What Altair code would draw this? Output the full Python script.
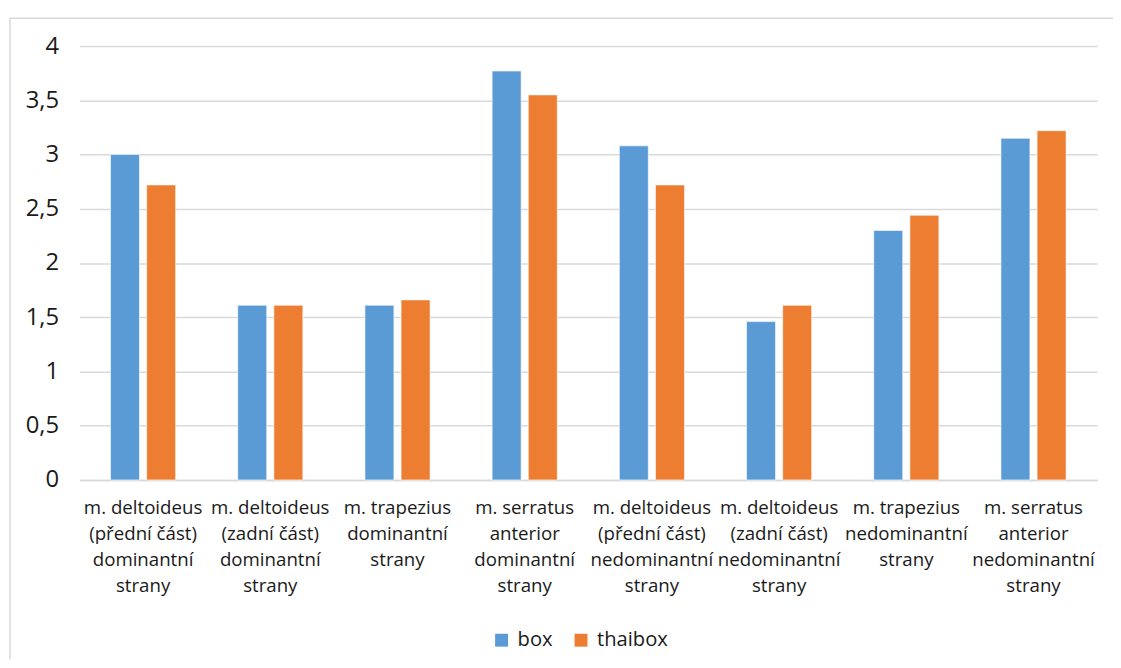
import altair as alt
import pandas as pd

categories = [
    "m. deltoideus|(přední část)|dominantní|strany",
    "m. deltoideus|(zadní část)|dominantní|strany",
    "m. trapezius|dominantní|strany",
    "m. serratus|anterior|dominantní|strany",
    "m. deltoideus|(přední část)|nedominantní|strany",
    "m. deltoideus|(zadní část)|nedominantní|strany",
    "m. trapezius|nedominantní|strany",
    "m. serratus|anterior|nedominantní|strany",
]
series = ["box", "thaibox"]
box_values = [3.0, 1.61, 1.61, 3.77, 3.08, 1.46, 2.30, 3.15]
thaibox_values = [2.72, 1.61, 1.66, 3.55, 2.72, 1.61, 2.44, 3.22]
y_ticks = [0, 0.5, 1, 1.5, 2, 2.5, 3, 3.5, 4]
colors = ["#5B9BD5", "#ED7D31"]

rows = []
for c, b, t in zip(categories, box_values, thaibox_values):
    rows.append({"cat": c, "series": "box", "value": b})
    rows.append({"cat": c, "series": "thaibox", "value": t})
df = pd.DataFrame(rows)

W, H = 1025, 437
FONT = "Open Sans"

border = alt.Chart(pd.DataFrame({"a": [0]})).mark_rect(
    fill=None, stroke="#D9D9D9", strokeWidth=1.5
).encode(
    x=alt.value(-70), x2=alt.value(W + 60), y=alt.value(-28), y2=alt.value(H + 220)
)

bars = alt.Chart(df).mark_bar(stroke="white", strokeWidth=0.6).encode(
    x=alt.X("cat:N", sort=categories, title=None,
            scale=alt.Scale(paddingInner=0, paddingOuter=0),
            axis=alt.Axis(labelAngle=0, labelExpr="split(datum.label, '|')",
                          labelFont=FONT, labelFontSize=18.8, labelColor="#1a1a1a",
                          labelLineHeight=26, labelPadding=19, labelLimit=200,
                          ticks=False, domain=True, domainColor="#D9D9D9",
                          domainWidth=1.5, grid=False, labelBaseline="top")),
    xOffset=alt.XOffset("series:N", sort=series,
                        scale=alt.Scale(paddingInner=0.198, paddingOuter=0.8585)),
    y=alt.Y("value:Q", title=None,
            scale=alt.Scale(domain=[0, 4], nice=False),
            axis=alt.Axis(values=y_ticks,
                          labelExpr="replace(format(datum.value, '~g'), '.', ',')",
                          labelFont=FONT, labelFontSize=24, labelColor="#1a1a1a",
                          labelPadding=21, ticks=False, domain=False,
                          grid=True, gridColor="#D9D9D9", gridWidth=1.5)),
    color=alt.Color("series:N", sort=series, title=None,
                    scale=alt.Scale(domain=series, range=colors),
                    legend=alt.Legend(orient="none", legendX=415, legendY=588,
                                      direction="horizontal", symbolType="square",
                                      symbolSize=169, symbolStrokeWidth=0,
                                      labelFont=FONT, labelFontSize=20.3,
                                      labelColor="#1a1a1a", labelOffset=6,
                                      columnPadding=18)),
)

chart = alt.layer(border, bars).properties(
    width=W, height=H,
    background="white",
    autosize=alt.AutoSizeParams(type="none"),
    padding={"left": 72, "top": 36, "right": 16, "bottom": 178},
).configure_view(stroke=None)

chart.save("out.html", embed_options={"renderer": "svg", "actions": False})
